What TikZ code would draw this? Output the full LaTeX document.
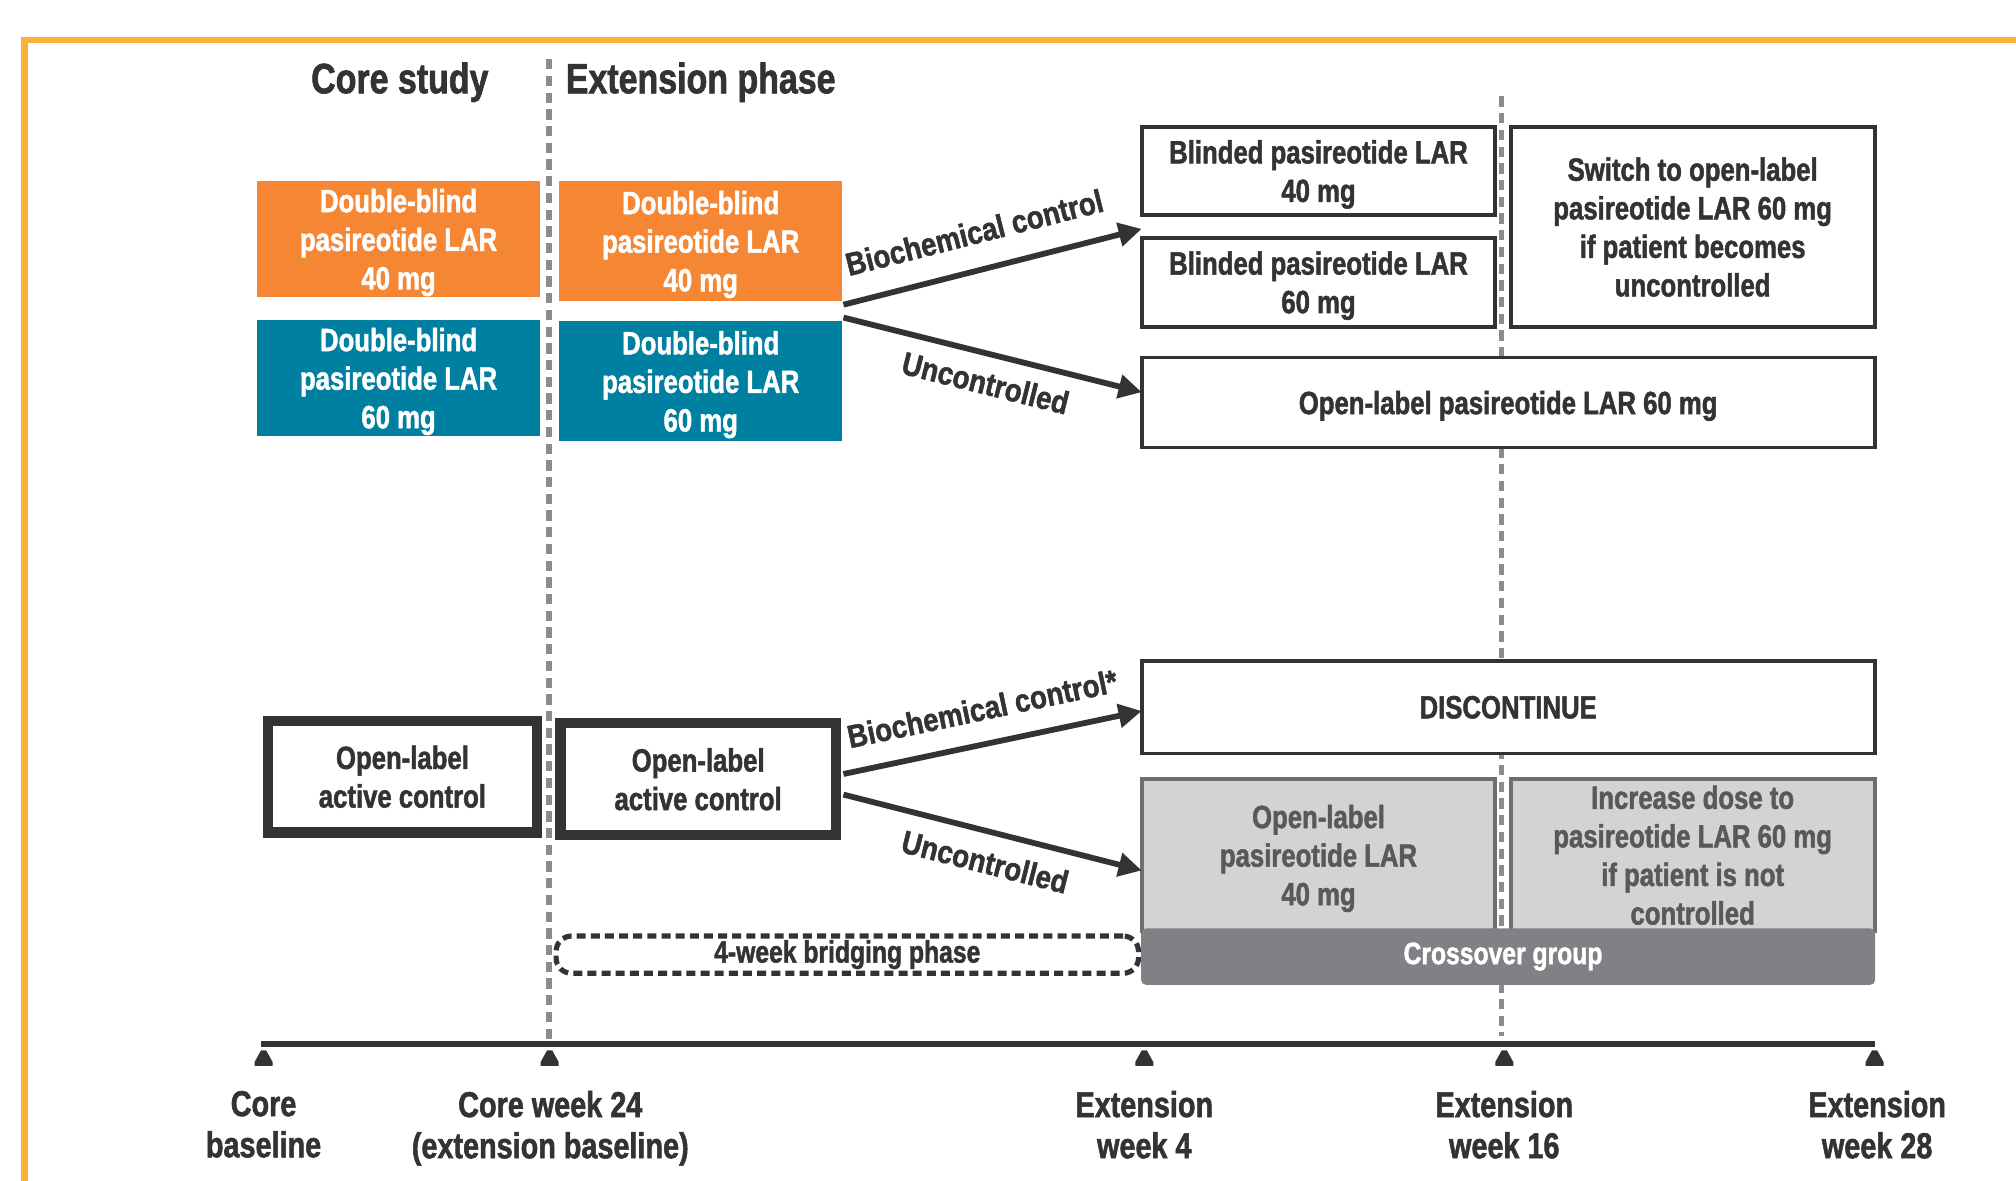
\documentclass[tikz,border=0pt]{standalone}
\usepackage{fontspec}
\setmainfont{Liberation Sans}[FakeStretch=0.8, BoldFeatures={FakeBold=1.5}]
\newfontfamily\arrowfont{Liberation Sans}[FakeStretch=0.86, BoldFeatures={FakeBold=1.5}]
\usetikzlibrary{arrows.meta}
\definecolor{frameorange}{RGB}{250,176,59}
\definecolor{boxorange}{RGB}{245,134,52}
\definecolor{boxteal}{RGB}{0,128,160}
\definecolor{dark}{RGB}{51,51,51}
\definecolor{dashgray}{RGB}{140,140,140}
\definecolor{cellgray}{RGB}{209,211,212}
\definecolor{cellborder}{RGB}{110,110,112}
\definecolor{crossgray}{RGB}{128,129,132}
\definecolor{celltext}{RGB}{88,89,91}
\tikzset{
  boxfont/.style={font={\fontsize{25}{30}\selectfont\bfseries}, text depth=0pt},
  colbox/.style={boxfont, text=white, align=center, inner sep=0pt, minimum width=220pt},
  outbox/.style={boxfont, draw=dark, line width=3pt, fill=white, text=dark, align=center, inner sep=0pt},
  activebox/.style={boxfont, draw=dark, line width=8pt, fill=white, text=dark, align=center, inner sep=0pt},
  graycell/.style={boxfont, draw=cellborder, line width=3pt, fill=cellgray, text=celltext, align=center, inner sep=0pt},
  phaseline/.style={draw=dashgray, line width=4pt, dash pattern=on 8pt off 5pt},
  arr/.style={draw=dark, line width=4.5pt, -{Triangle[length=18pt,width=18pt]}},
  arrlabel/.style={font={\arrowfont\fontsize{25}{28}\selectfont\bfseries}, text=dark, inner sep=0pt},
  header/.style={font={\fontsize{33}{36}\selectfont\bfseries}, text=dark},
  tlabel/.style={font={\fontsize{28}{32}\selectfont\bfseries}, text=dark, align=center, anchor=north},
}
\begin{document}
\begin{tikzpicture}[x=1pt,y=-1pt]
\useasboundingbox (0,0) rectangle (1568,918);
\clip (0,0) rectangle (1568,918);
\fill[white] (0,0) rectangle (1568,918);
% frame
\draw[frameorange, line width=5pt] (19,960) -- (19,31) -- (1620,31);
% headers
\node[header] (hcore) at (311,64) {Core study};
\node[header] (hext) at (545,64) {Extension phase};
% phase lines
\coordinate (pl1top) at (427,46);
\coordinate (pl1bot) at (427,808);
\coordinate (pl2top) at (1168,75);
\coordinate (pl2bot) at (1168,806);
\draw[phaseline] (pl1top) -- (pl1bot);
\draw[phaseline] (pl2top) -- (pl2bot);
% coloured boxes
\node[colbox, fill=boxorange, minimum height=90pt] (oc) at (310,186) {Double-blind\\pasireotide LAR\\40 mg};
\node[colbox, fill=boxorange, minimum height=93pt] (oe) at (545,187.5) {Double-blind\\pasireotide LAR\\40 mg};
\node[colbox, fill=boxteal, minimum height=90pt] (tc) at (310,294) {Double-blind\\pasireotide LAR\\60 mg};
\node[colbox, fill=boxteal, minimum height=93pt] (te) at (545,296.5) {Double-blind\\pasireotide LAR\\60 mg};
% right upper boxes
\node[outbox, minimum width=275pt, minimum height=68pt] (b40) at (1025.5,133) {Blinded pasireotide LAR\\40 mg};
\node[outbox, minimum width=275pt, minimum height=69pt] (b60) at (1025.5,219.5) {Blinded pasireotide LAR\\60 mg};
\node[outbox, minimum width=283pt, minimum height=155pt] (sw) at (1316.5,176.5) {Switch to open-label\\pasireotide LAR 60 mg\\if patient becomes\\uncontrolled};
\node[outbox, minimum width=570pt, minimum height=70pt] (ol60) at (1173,313) {Open-label pasireotide LAR 60 mg};
% active control
\node[activebox, minimum width=209pt, minimum height=87pt] (acc) at (313,604) {Open-label\\active control};
\node[activebox, minimum width=214pt, minimum height=87pt] (ace) at (543,606) {Open-label\\active control};
% lower right
\node[outbox, minimum width=570pt, minimum height=72pt] (disc) at (1173,550) {DISCONTINUE};
\node[graycell, minimum width=275pt, minimum height=118pt] (g40) at (1025.5,665) {Open-label\\pasireotide LAR\\40 mg};
\node[graycell, minimum width=283pt, minimum height=118pt] (g60) at (1316.5,665) {Increase dose to\\pasireotide LAR 60 mg\\if patient is not\\controlled};
\node[fill=crossgray, rounded corners=4pt, minimum width=571pt, minimum height=44pt, inner sep=0pt,
      text=white, font={\fontsize{24}{28}\selectfont\bfseries}] (cross) at (1173,744) {\hspace*{-8pt}Crossover group};
% bridging phase
\node[draw=dark, line width=4pt, dash pattern=on 7pt off 4pt, rounded corners=12pt, fill=white,
      minimum width=453pt, minimum height=29pt, inner sep=0pt, text=dark,
      font={\fontsize{24}{26}\selectfont\bfseries}] (bridge) at (659,742.5) {4-week bridging phase};
% arrows
\coordinate (s1) at (656,237);
\coordinate (e1) at (888,178);
\coordinate (s2) at (656,247);
\coordinate (e2) at (888,305);
\coordinate (s3) at (656,602);
\coordinate (e3) at (888,553);
\coordinate (s4) at (656,618);
\coordinate (e4) at (888,677);
\draw[arr] (s1) -- node[arrlabel, sloped, above=18pt, pos=0.47] {Biochemical control} (e1);
\draw[arr] (s2) -- node[arrlabel, sloped, below=11pt, pos=0.50] {Uncontrolled} (e2);
\draw[arr] (s3) -- node[arrlabel, sloped, above=16pt, pos=0.49] {Biochemical control*} (e3);
\draw[arr] (s4) -- node[arrlabel, sloped, below=12pt, pos=0.50] {Uncontrolled} (e4);
% timeline
\coordinate (t0) at (205,812);
\coordinate (t1) at (427.5,812);
\coordinate (t2) at (890,812);
\coordinate (t3) at (1170,812);
\coordinate (t4) at (1458,812);
\draw[dark, line width=5pt] (203,812) -- (t4);
\foreach \t in {t0,t1,t2,t3,t4}{
  \fill[dark] ([xshift=-7pt,yshift=-17pt]\t) -- ([xshift=-7pt,yshift=-14pt]\t) -- ([xshift=-2pt,yshift=-5pt]\t)
    -- ([xshift=2pt,yshift=-5pt]\t) -- ([xshift=7pt,yshift=-14pt]\t) -- ([xshift=7pt,yshift=-17pt]\t) -- cycle;
}
\node[tlabel] (l0) at (205,845) {Core\\baseline};
\node[tlabel] (l1) at (428,845) {Core week 24\\(extension baseline)};
\node[tlabel] (l2) at (890,845) {Extension\\week 4};
\node[tlabel] (l3) at (1170,845) {Extension\\week 16};
\node[tlabel] (l4) at (1460,845) {Extension\\week 28};
\end{tikzpicture}
\end{document}
